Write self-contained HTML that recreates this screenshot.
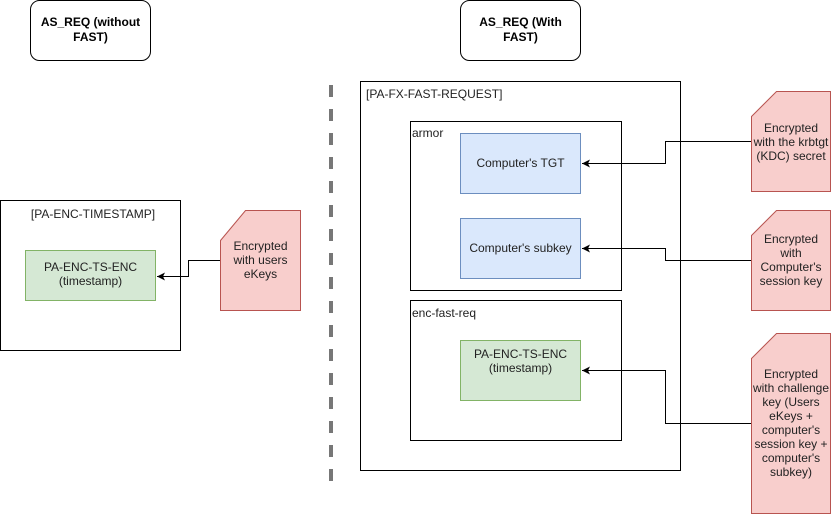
<!DOCTYPE html>
<html><head><meta charset="utf-8"><style>
html,body{margin:0;padding:0;background:#fff;}
svg{display:block;font-family:"Liberation Sans",Arial,sans-serif;}
</style></head><body>
<svg width="831" height="516" viewBox="0 0 831 516" xmlns="http://www.w3.org/2000/svg">
<defs>
<marker id="a" markerWidth="10" markerHeight="10" refX="8" refY="5" orient="auto" markerUnits="userSpaceOnUse">
<path d="M0,1 L8,5 L0,9 L2,5 Z" fill="#000"/></marker>
</defs>
<rect x="0" y="0" width="831" height="516" fill="#fff"/>
<!-- headers -->
<rect x="30.5" y="0.5" width="120" height="60" rx="9" fill="#fff" stroke="#000"/>
<text x="90.5" y="26" font-size="12" font-weight="bold" text-anchor="middle">AS_REQ (without</text>
<text x="90.5" y="41" font-size="12" font-weight="bold" text-anchor="middle">FAST)</text>
<rect x="460.5" y="0.5" width="120" height="60" rx="9" fill="#fff" stroke="#000"/>
<text x="520.5" y="26" font-size="12" font-weight="bold" text-anchor="middle">AS_REQ (With</text>
<text x="520.5" y="41" font-size="12" font-weight="bold" text-anchor="middle">FAST)</text>
<!-- dashed divider -->
<line x1="331" y1="85" x2="331" y2="481" stroke="#777" stroke-width="4" stroke-dasharray="12 12"/>
<!-- left -->
<rect x="0.5" y="200.5" width="180" height="150" fill="#fff" stroke="#000"/>
<text x="93" y="218" font-size="12" text-anchor="middle" fill="#222">[PA-ENC-TIMESTAMP]</text>
<rect x="25.5" y="250.5" width="130" height="50" fill="#d5e8d4" stroke="#82b366"/>
<text x="90.5" y="271" font-size="12" text-anchor="middle" fill="#222">PA-ENC-TS-ENC</text>
<text x="90.5" y="285" font-size="12" text-anchor="middle" fill="#222">(timestamp)</text>
<path d="M220.5,240.5 L245.5,210.5 L300.5,210.5 L300.5,310.5 L220.5,310.5 Z" fill="#f8cecc" stroke="#b85450"/>
<text x="260.5" y="250" font-size="12" text-anchor="middle" fill="#222">Encrypted</text>
<text x="260.5" y="264" font-size="12" text-anchor="middle" fill="#222">with users</text>
<text x="260.5" y="278" font-size="12" text-anchor="middle" fill="#222">eKeys</text>
<path d="M220,260.5 L188.5,260.5 L188.5,276.5 L157,276.5" fill="none" stroke="#000" marker-end="url(#a)"/>
<!-- right -->
<rect x="360.5" y="81.5" width="320" height="389" fill="#fff" stroke="#000"/>
<text x="366" y="98" font-size="12" fill="#222">[PA-FX-FAST-REQUEST]</text>
<rect x="410.5" y="121.5" width="211" height="169" fill="#fff" stroke="#000"/>
<text x="412" y="137" font-size="12" fill="#222">armor</text>
<rect x="460.5" y="133.5" width="120" height="60" fill="#dae8fc" stroke="#6c8ebf"/>
<text x="520.5" y="167" font-size="12" text-anchor="middle" fill="#222">Computer's TGT</text>
<rect x="460.5" y="218.5" width="120" height="60" fill="#dae8fc" stroke="#6c8ebf"/>
<text x="520.5" y="252" font-size="12" text-anchor="middle" fill="#222">Computer's subkey</text>
<rect x="410.5" y="300.5" width="211" height="140" fill="#fff" stroke="#000"/>
<text x="412" y="317" font-size="12" fill="#222">enc-fast-req</text>
<rect x="460.5" y="340.5" width="120" height="60" fill="#d5e8d4" stroke="#82b366"/>
<text x="520.5" y="358" font-size="12" text-anchor="middle" fill="#222">PA-ENC-TS-ENC</text>
<text x="520.5" y="372" font-size="12" text-anchor="middle" fill="#222">(timestamp)</text>
<!-- red cards -->
<path d="M751.5,116.5 L776.5,91.5 L830.5,91.5 L830.5,191.5 L751.5,191.5 Z" fill="#f8cecc" stroke="#b85450"/>
<text x="791" y="132" font-size="12" text-anchor="middle" fill="#222">Encrypted</text>
<text x="791" y="146" font-size="12" text-anchor="middle" fill="#222">with the krbtgt</text>
<text x="791" y="160" font-size="12" text-anchor="middle" fill="#222">(KDC) secret</text>
<path d="M751.5,235.5 L776.5,210.5 L830.5,210.5 L830.5,310.5 L751.5,310.5 Z" fill="#f8cecc" stroke="#b85450"/>
<text x="791" y="243" font-size="12" text-anchor="middle" fill="#222">Encrypted</text>
<text x="791" y="257" font-size="12" text-anchor="middle" fill="#222">with</text>
<text x="791" y="271" font-size="12" text-anchor="middle" fill="#222">Computer's</text>
<text x="791" y="285" font-size="12" text-anchor="middle" fill="#222">session key</text>
<path d="M751.5,358.5 L776.5,333.5 L830.5,333.5 L830.5,513.5 L751.5,513.5 Z" fill="#f8cecc" stroke="#b85450"/>
<text x="791" y="378" font-size="12" text-anchor="middle" fill="#222">Encrypted</text>
<text x="791" y="392" font-size="12" text-anchor="middle" fill="#222">with challenge</text>
<text x="791" y="406" font-size="12" text-anchor="middle" fill="#222">key (Users</text>
<text x="791" y="420" font-size="12" text-anchor="middle" fill="#222">eKeys +</text>
<text x="791" y="434" font-size="12" text-anchor="middle" fill="#222">computer's</text>
<text x="791" y="448" font-size="12" text-anchor="middle" fill="#222">session key +</text>
<text x="791" y="462" font-size="12" text-anchor="middle" fill="#222">computer's</text>
<text x="791" y="476" font-size="12" text-anchor="middle" fill="#222">subkey)</text>
<!-- connectors -->
<path d="M751,141.5 L665.5,141.5 L665.5,163.5 L582,163.5" fill="none" stroke="#000" marker-end="url(#a)"/>
<path d="M751,260.5 L665.5,260.5 L665.5,248.5 L582,248.5" fill="none" stroke="#000" marker-end="url(#a)"/>
<path d="M751,423.5 L665.5,423.5 L665.5,370.5 L582,370.5" fill="none" stroke="#000" marker-end="url(#a)"/>
</svg>
</body></html>
